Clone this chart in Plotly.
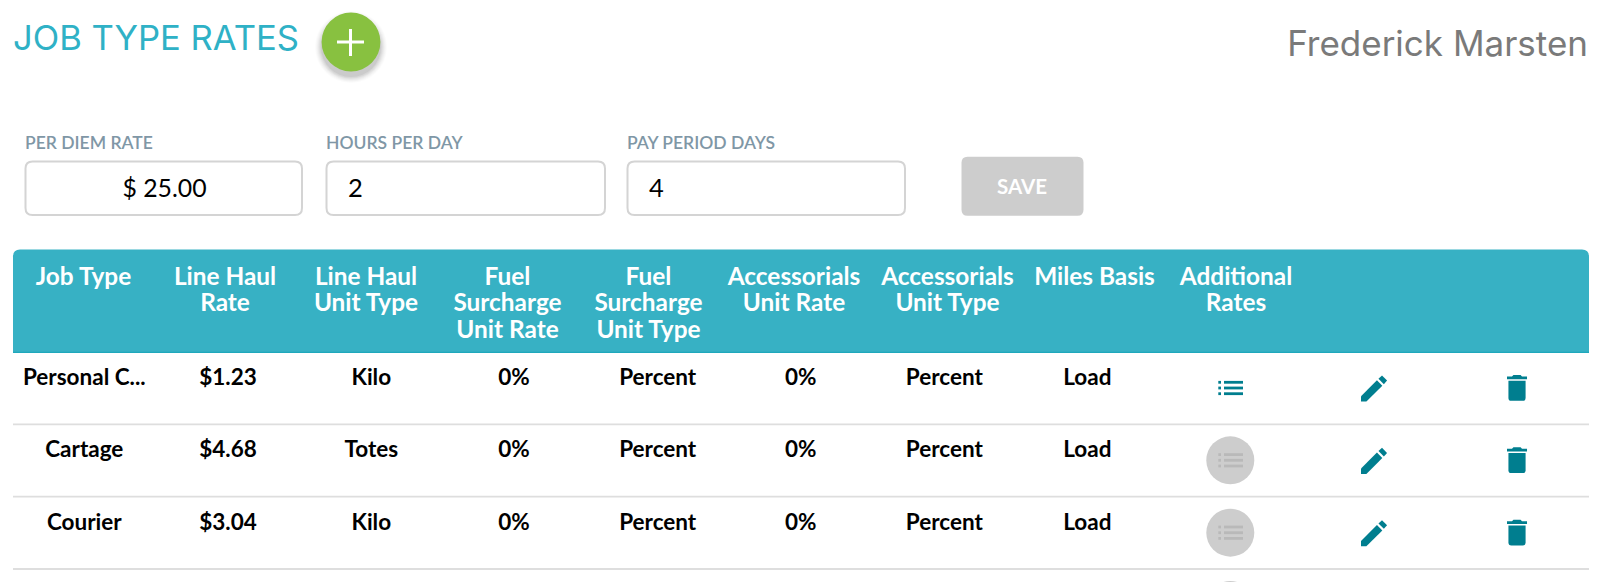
import re
import plotly.graph_objects as go

# job type rates screen, everything laid out in page pixels

title = 'JOB TYPE RATES'
user_name = 'Frederick Marsten'

field_labels = ['PER DIEM RATE', 'HOURS PER DAY', 'PAY PERIOD DAYS']
field_values = ['$ 25.00', '2', '4']
save_label = 'SAVE'

header_labels = [
    ['Job Type'],
    ['Line Haul', 'Rate'],
    ['Line Haul', 'Unit Type'],
    ['Fuel', 'Surcharge', 'Unit Rate'],
    ['Fuel', 'Surcharge', 'Unit Type'],
    ['Accessorials', 'Unit Rate'],
    ['Accessorials', 'Unit Type'],
    ['Miles Basis'],
    ['Additional', 'Rates'],
]

job_types = ['Personal C...', 'Cartage', 'Courier']
line_haul_rates = ['$1.23', '$4.68', '$3.04']
line_haul_units = ['Kilo', 'Totes', 'Kilo']
fuel_rates = ['0%', '0%', '0%']
fuel_units = ['Percent', 'Percent', 'Percent']
acc_rates = ['0%', '0%', '0%']
acc_units = ['Percent', 'Percent', 'Percent']
miles_basis = ['Load', 'Load', 'Load']
has_additional = [True, False, False]

W, H = 1600, 582
TEAL = '#37B1C4'
ICON = '#007E8F'
GREY = '#CDCDCD'

header_x = [83.5, 225, 366, 507.5, 648.5, 794, 947.5, 1094.5, 1236]
body_x = [84.3, 228, 371.3, 514, 657.7, 800.7, 944.3, 1087.3]
header_y = [278.5, 305, 331.5]
row_y = [379, 451.5, 524]
row_line_y = [424.4, 496.7, 569]
icon_y = [388, 460.3, 532.7, 605]

shapes = []


def rounded(x0, y0, x1, y1, r, bottom=True):
    p = f'M{x0+r} {y0} L{x1-r} {y0} Q{x1} {y0} {x1} {y0+r} '
    if bottom:
        p += f'L{x1} {y1-r} Q{x1} {y1} {x1-r} {y1} L{x0+r} {y1} Q{x0} {y1} {x0} {y1-r} '
    else:
        p += f'L{x1} {y1} L{x0} {y1} '
    p += f'L{x0} {y0+r} Q{x0} {y0} {x0+r} {y0} Z'
    return p


def add_path(path, fill, line=None, width=0):
    shapes.append(dict(type='path', path=path, fillcolor=fill, xref='x', yref='y',
                       line=dict(color=line or fill, width=width)))


def add_circle(cx, cy, r, fill):
    shapes.append(dict(type='circle', x0=cx-r, x1=cx+r, y0=cy-r, y1=cy+r, xref='x', yref='y',
                       fillcolor=fill, line=dict(width=0)))


def add_rect(x0, y0, x1, y1, fill):
    shapes.append(dict(type='rect', x0=x0, x1=x1, y0=y0, y1=y1, xref='x', yref='y',
                       fillcolor=fill, line=dict(width=0)))


def icon(path, x0, y0, s):
    # scale a path written in 24 unit icon coordinates
    def sub(m):
        return f'{x0 + float(m.group(1))*s:.2f} {y0 + float(m.group(2))*s:.2f}'
    return re.sub(r'([\d.]+) ([\d.]+)', sub, path)


PENCIL = ['M3 17.25 L3 21 L6.75 21 L17.81 9.94 L14.06 6.19 Z',
          'M15.13 5.12 L17.6 2.9 L21.1 6.4 L18.88 8.87 Z']
TRASH = ['M6 7 L18 7 L18 19 Q18 21 16 21 L8 21 Q6 21 6 19 Z',
         'M5 4 L8.5 4 L9.5 3 L14.5 3 L15.5 4 L19 4 L19 6 L5 6 Z']

# add button with its shadow
for r, a in [(36, 0.015), (35, 0.02), (34, 0.025), (33, 0.03), (32, 0.035), (31, 0.04), (30, 0.05)]:
    add_circle(351, 47, r, f'rgba(0,0,0,{a})')
add_circle(351, 42, 29.4, '#88C140')
add_rect(337, 40.5, 364, 43.5, 'white')
add_rect(349, 29, 352, 56, 'white')

# input fields
for x0, x1 in [(25.5, 302), (326.5, 605), (627.5, 905)]:
    add_path(rounded(x0, 161.5, x1, 215, 7), 'white', '#D4D4D4', 2)
add_path(rounded(961.5, 156.7, 1083.5, 215.7, 6), GREY)

# table header and row lines
add_path(rounded(13, 249.5, 1589, 352.5, 7, bottom=False), TEAL)
add_rect(13, 351.8, 1589, 353, '#1FA8BC')
for y in row_line_y:
    add_rect(13, y-0.9, 1589, y+0.9, '#DEDEDE')

# row icons
for i, y in enumerate(icon_y):
    active = i < len(has_additional) and has_additional[i]
    c = ICON if active else '#B9B9B9'
    if not active:
        add_circle(1230.3, y, 24, GREY)
    for dy in (-5.7, 0, 5.7):
        add_rect(1218.3, y+dy-1.4, 1221, y+dy+1.4, c)
        add_rect(1224, y+dy-1.4, 1243, y+dy+1.4, c)
    if i < len(has_additional):
        for part in PENCIL:
            add_path(icon(part, 1361-3*1.44, y-12.3-3*1.44, 1.44), ICON)
        for part in TRASH:
            add_path(icon(part, 1507-5*1.43, y-13-3*1.43, 1.43), ICON)

fig = go.Figure()


def add_text(xs, ys, texts, size, color, family='Lato', weight='normal', pos='middle center'):
    fig.add_trace(go.Scatter(x=xs, y=ys, text=texts, mode='text', textposition=pos, cliponaxis=False,
                             hoverinfo='skip', showlegend=False,
                             textfont=dict(size=size, color=color, family=family, weight=weight)))


add_text([13], [41], [title], 34.6, '#2FB1C6', family='Inter', weight=400, pos='middle right')
add_text([1588], [47], [user_name], 35, '#7A7A7A', family='Inter', weight=400, pos='middle left')

add_text([25, 326, 627], [145]*3, field_labels, 17.5, '#7F97A6', weight=600, pos='middle right')
add_text([164.5], [190.5], field_values[:1], 24.8, 'black')
add_text([348, 649], [190.5]*2, field_values[1:], 25.5, 'black', pos='middle right')
add_text([1022], [189], [save_label], 20.5, 'white', weight='bold')

for x, lines in zip(header_x, header_labels):
    add_text([x]*len(lines), header_y[:len(lines)], lines, 24.4, 'white', weight='bold')

columns = [job_types, line_haul_rates, line_haul_units, fuel_rates, fuel_units, acc_rates, acc_units, miles_basis]
for x, col in zip(body_x, columns):
    add_text([x]*len(col), row_y, col, 22.5, 'black', weight='bold')

fig.update_layout(
    width=W, height=H,
    margin=dict(l=0, r=0, t=0, b=0),
    paper_bgcolor='white', plot_bgcolor='white',
    shapes=[dict(s, layer='below') for s in shapes],
    xaxis=dict(range=[0, W], visible=False, fixedrange=True),
    yaxis=dict(range=[H, 0], visible=False, fixedrange=True),
)

# the page's default body margin would push everything 8px in
fig.write_html('out.html', config=dict(displayModeBar=False),
               post_script="document.body.style.margin='0';")
